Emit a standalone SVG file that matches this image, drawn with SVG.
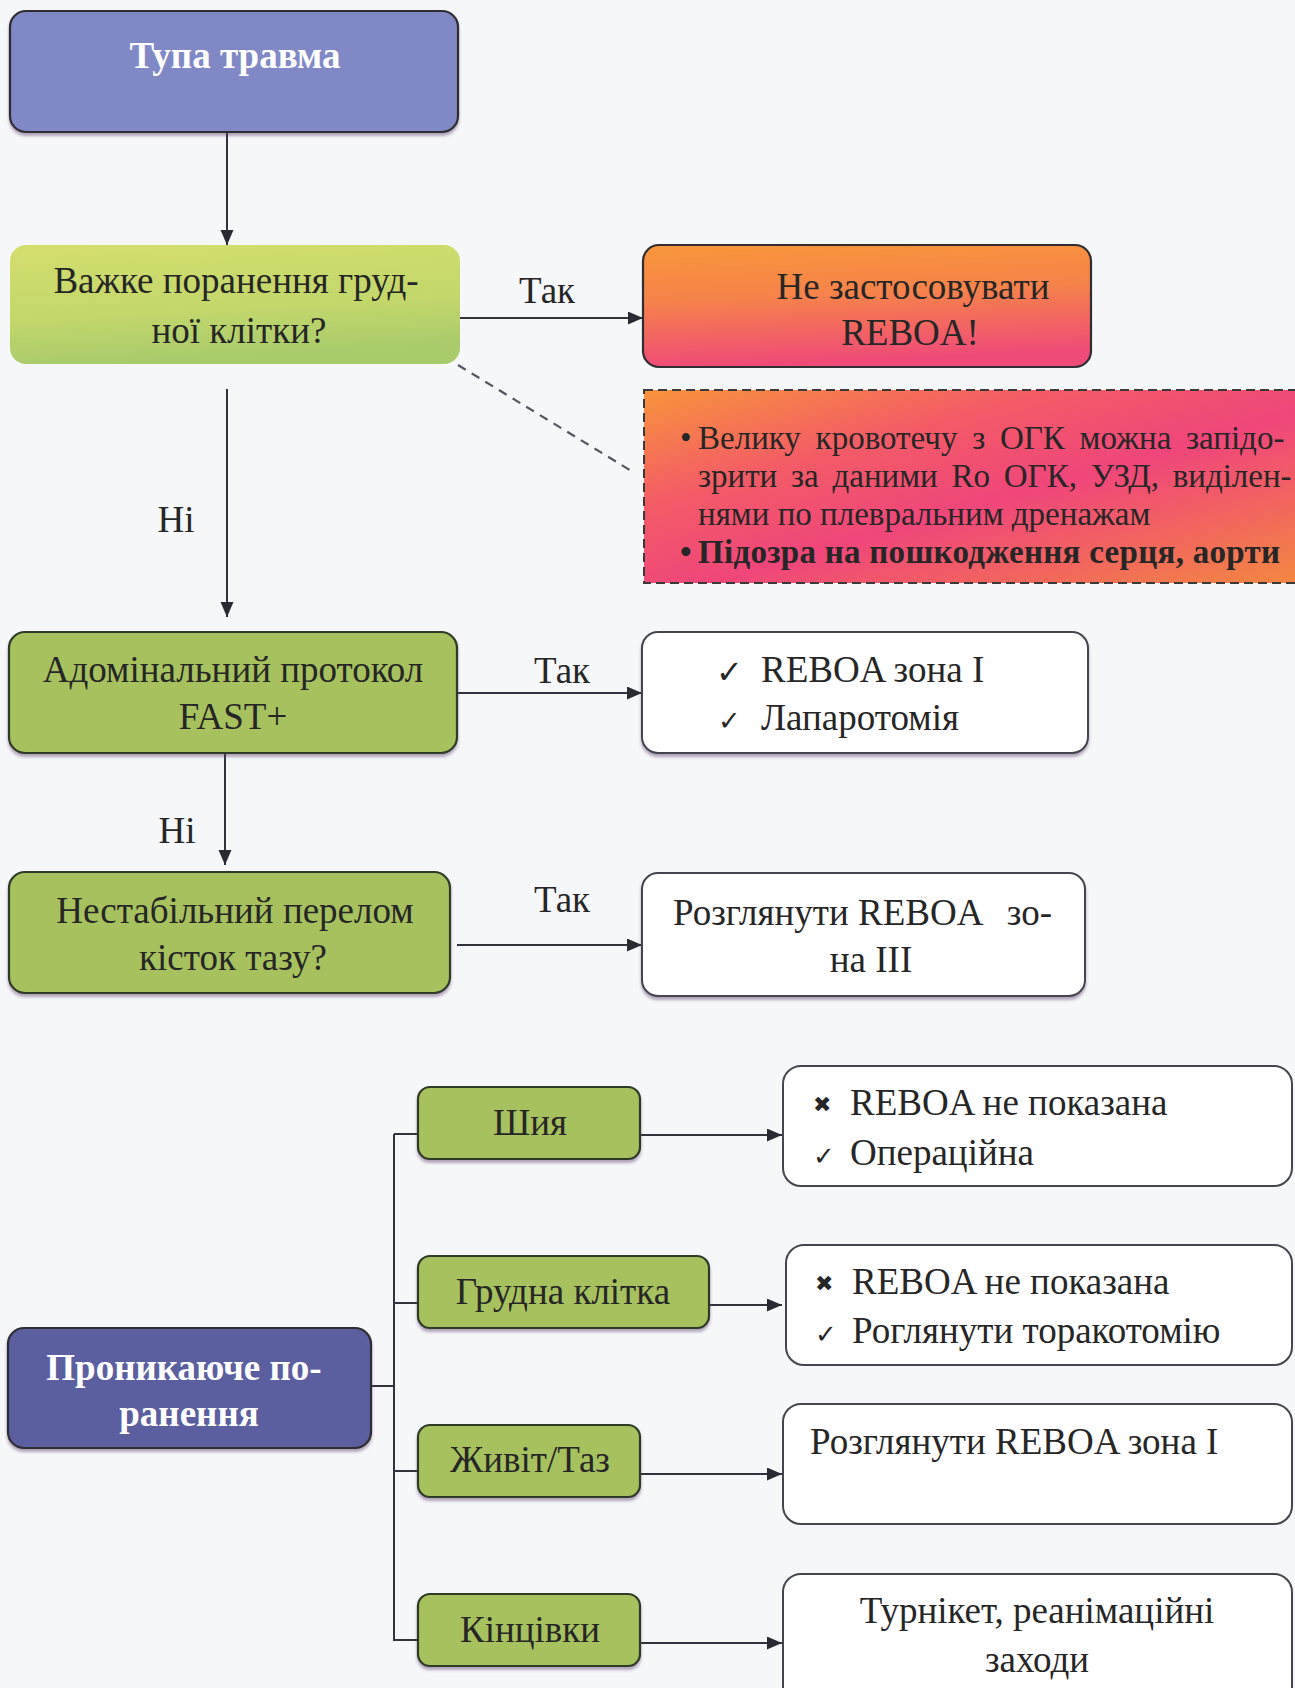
<svg xmlns="http://www.w3.org/2000/svg" width="1295" height="1688" viewBox="0 0 1295 1688">
<style>
text{font-family:"Liberation Serif","Times New Roman",serif;fill:#262626}
.t{font-size:37px}
.c{text-anchor:middle}
.w{fill:#ffffff;font-weight:bold}
.s{font-size:33px}
.sym{font-family:"DejaVu Sans",sans-serif}
.box{stroke:#2f2f33;stroke-width:2.2}
.res{fill:#ffffff;stroke:#45454d;stroke-width:2}
.grn{fill:#a7c15e;stroke:#2f3a28;stroke-width:2.2}
.ln{fill:none;stroke:#33333d;stroke-width:2}
</style>
<defs>
<marker id="ah" markerUnits="userSpaceOnUse" markerWidth="16" markerHeight="14" refX="15" refY="6.5" orient="auto">
<path d="M0,0 L15,6.5 L0,13 z" fill="#2a2a33"/>
</marker>
<linearGradient id="gYel" x1="0" y1="0" x2="0.2" y2="1">
<stop offset="0" stop-color="#d4de6e"/>
<stop offset="0.6" stop-color="#c3d76b"/>
<stop offset="1" stop-color="#a9cb6c"/>
</linearGradient>
<linearGradient id="gOr" x1="0" y1="0" x2="0.15" y2="1">
<stop offset="0" stop-color="#f8963a"/>
<stop offset="0.45" stop-color="#f6834a"/>
<stop offset="1" stop-color="#ef4a78"/>
</linearGradient>
<linearGradient id="gOr2" x1="0" y1="0" x2="1" y2="1">
<stop offset="0" stop-color="#f8943c"/>
<stop offset="0.3" stop-color="#f35b66"/>
<stop offset="0.55" stop-color="#f0467b"/>
<stop offset="0.8" stop-color="#f26a5a"/>
<stop offset="1" stop-color="#f38a40"/>
</linearGradient>
<filter id="sh" x="-5%" y="-5%" width="110%" height="120%">
<feDropShadow dx="0" dy="3" stdDeviation="1.5" flood-color="#5a3a6a" flood-opacity="0.45"/>
</filter>
</defs>
<rect x="0" y="0" width="1295" height="1688" fill="#f6f7f9"/>

<g id="connectors">
<line class="ln" x1="227" y1="132" x2="227" y2="245" marker-end="url(#ah)"/>
<line class="ln" x1="460" y1="318" x2="643" y2="318" marker-end="url(#ah)"/>
<line x1="458" y1="365" x2="633" y2="472" stroke="#555560" stroke-width="2.2" stroke-dasharray="9,7"/>
<line class="ln" x1="227" y1="389" x2="227" y2="617" marker-end="url(#ah)"/>
<line class="ln" x1="457" y1="693" x2="642" y2="693" marker-end="url(#ah)"/>
<line class="ln" x1="225" y1="753" x2="225" y2="865" marker-end="url(#ah)"/>
<line class="ln" x1="457" y1="945" x2="642" y2="945" marker-end="url(#ah)"/>
<line class="ln" x1="394" y1="1134" x2="394" y2="1641"/>
<line class="ln" x1="371" y1="1386" x2="394" y2="1386"/>
<line class="ln" x1="394" y1="1134" x2="418" y2="1134"/>
<line class="ln" x1="394" y1="1303" x2="418" y2="1303"/>
<line class="ln" x1="394" y1="1471" x2="418" y2="1471"/>
<line class="ln" x1="394" y1="1640" x2="418" y2="1640"/>
<line class="ln" x1="640" y1="1135" x2="782" y2="1135" marker-end="url(#ah)"/>
<line class="ln" x1="709" y1="1305" x2="782" y2="1305" marker-end="url(#ah)"/>
<line class="ln" x1="640" y1="1474" x2="782" y2="1474" marker-end="url(#ah)"/>
<line class="ln" x1="640" y1="1643" x2="782" y2="1643" marker-end="url(#ah)"/>
<text class="t c" x="547" y="303">Так</text>
<text class="t c" x="176" y="532">Ні</text>
<text class="t c" x="562" y="683">Так</text>
<text class="t c" x="177" y="843">Ні</text>
<text class="t c" x="562" y="912">Так</text>
</g>

<g id="n-tupa">
<rect class="box" x="10" y="11" width="448" height="121" rx="16" fill="#8088c6" filter="url(#sh)"/>
<text class="t c w" x="235" y="68">Тупа травма</text>
</g>

<g id="n-vazhke">
<rect x="10" y="245" width="450" height="119" rx="16" fill="url(#gYel)"/>
<text class="t c" x="236"><tspan x="236" y="293">Важке поранення груд-</tspan><tspan x="239" y="343">ної клітки?</tspan></text>
</g>

<g id="n-ne">
<rect class="box" x="643" y="245" width="448" height="122" rx="16" fill="url(#gOr)"/>
<text class="t c" x="913"><tspan x="913" y="299">Не застосовувати</tspan><tspan x="910" y="345">REBOA!</tspan></text>
</g>

<g id="n-note">
<rect x="644" y="390" width="670" height="193" fill="url(#gOr2)" stroke="#3a3a3a" stroke-width="2" stroke-dasharray="9,5"/>
<text class="s" word-spacing="6.5"><tspan x="680" y="449">•</tspan><tspan x="698" y="449">Велику кровотечу з ОГК можна запідо-</tspan></text>
<text class="s" word-spacing="5.5" x="698" y="487">зрити за даними Ro ОГК, УЗД, виділен-</text>
<text class="s" x="698" y="525">нями по плевральним дренажам</text>
<text class="s" font-weight="bold"><tspan x="680" y="563">•</tspan><tspan x="698" y="563" textLength="582" lengthAdjust="spacing">Підозра на пошкодження серця, аорти</tspan></text>
</g>

<g id="n-fast">
<rect class="grn" x="9" y="632" width="448" height="121" rx="16" filter="url(#sh)"/>
<text class="t c" x="233"><tspan x="233" y="682">Адомінальний протокол</tspan><tspan x="233" y="729">FAST+</tspan></text>
</g>

<g id="n-reboa1">
<rect class="res" x="642" y="632" width="446" height="121" rx="16" filter="url(#sh)"/>
<text class="sym" font-size="32" x="716" y="683">✓</text>
<text class="t" x="761" y="682">REBOA зона I</text>
<text class="sym" font-size="27" x="718" y="730">✓</text>
<text class="t" x="761" y="730">Лапаротомія</text>
</g>

<g id="n-pelvis">
<rect class="grn" x="9" y="872" width="441" height="121" rx="16" filter="url(#sh)"/>
<text class="t c" x="234"><tspan x="235" y="923">Нестабільний перелом</tspan><tspan x="233" y="970">кісток тазу?</tspan></text>
</g>

<g id="n-reboa3">
<rect class="res" x="642" y="873" width="443" height="123" rx="16" filter="url(#sh)"/>
<text class="t"><tspan x="673" y="925">Розглянути REBOA</tspan><tspan x="1052" y="925" text-anchor="end">зо-</tspan></text>
<text class="t c" x="871" y="972">на III</text>
</g>

<g id="n-pen">
<rect class="box" x="8" y="1328" width="363" height="120" rx="16" fill="#5c5f9f" filter="url(#sh)"/>
<text class="t c w"><tspan x="184" y="1380">Проникаюче по-</tspan><tspan x="189" y="1426">ранення</tspan></text>
</g>

<g id="n-neck">
<rect class="grn" x="418" y="1087" width="222" height="72" rx="12" filter="url(#sh)"/>
<text class="t c" x="530" y="1135">Шия</text>
</g>

<g id="n-chest">
<rect class="grn" x="418" y="1256" width="291" height="72" rx="12" filter="url(#sh)"/>
<text class="t c" x="563" y="1304">Грудна клітка</text>
</g>

<g id="n-abd">
<rect class="grn" x="418" y="1425" width="222" height="72" rx="12" filter="url(#sh)"/>
<text class="t c" x="530" y="1472">Живіт/Таз</text>
</g>

<g id="n-limbs">
<rect class="grn" x="418" y="1594" width="222" height="72" rx="12" filter="url(#sh)"/>
<text class="t c" x="530" y="1642">Кінцівки</text>
</g>

<g id="n-r1">
<rect class="res" x="783" y="1066" width="509" height="120" rx="18"/>
<text class="sym" font-size="22" font-weight="bold" x="813" y="1112">✖</text>
<text class="t" x="850" y="1115">REBOA не показана</text>
<text class="sym" font-size="26" x="813" y="1165">✓</text>
<text class="t" x="850" y="1165">Операційна</text>
</g>

<g id="n-r2">
<rect class="res" x="786" y="1245" width="506" height="120" rx="18"/>
<text class="sym" font-size="22" font-weight="bold" x="815" y="1291">✖</text>
<text class="t" x="852" y="1294">REBOA не показана</text>
<text class="sym" font-size="26" x="815" y="1343">✓</text>
<text class="t" x="852" y="1343">Роглянути торакотомію</text>
</g>

<g id="n-r3">
<rect class="res" x="783" y="1404" width="509" height="120" rx="18"/>
<text class="t" x="810" y="1454">Розглянути REBOA зона I</text>
</g>

<g id="n-r4">
<rect class="res" x="783" y="1574" width="509" height="140" rx="18"/>
<text class="t c"><tspan x="1037" y="1623">Турнікет, реанімаційні</tspan><tspan x="1037" y="1672">заходи</tspan></text>
</g>
</svg>
